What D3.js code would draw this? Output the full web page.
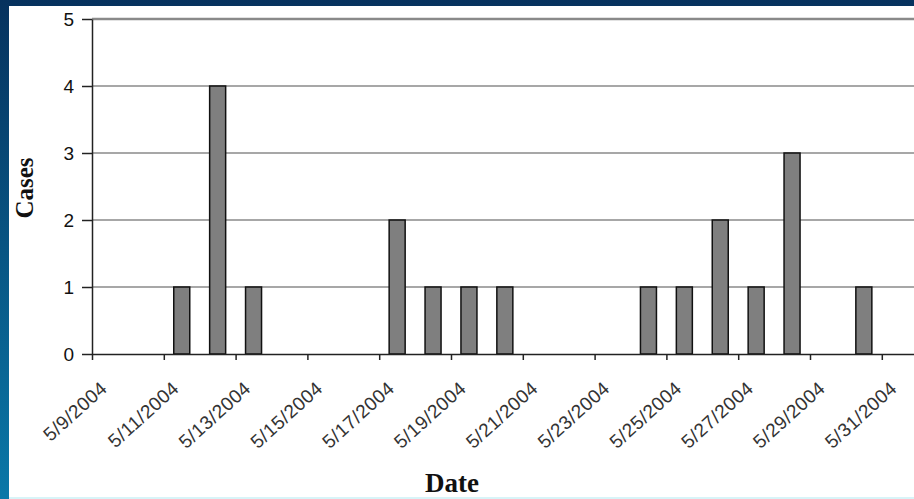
<!DOCTYPE html>
<html><head><meta charset="utf-8">
<script src="https://cdn.jsdelivr.net/npm/d3@7"></script>
<style>html,body{margin:0;padding:0;overflow:hidden;background:#fff}</style>
</head><body>
<svg id="c" width="914" height="499"></svg>
<script>
const dates = ["2004-05-11","2004-05-12","2004-05-13","2004-05-17","2004-05-18","2004-05-19","2004-05-20","2004-05-24","2004-05-25","2004-05-26","2004-05-27","2004-05-28","2004-05-30"];
const cases = [1,4,1,2,1,1,1,1,1,2,1,3,1];
const yTicks = [0,1,2,3,4,5];
const xStart = "2004-05-09", xEnd = "2004-06-01";
const yLabel = "Cases", xLabel = "Date";

(function(){
const svg = d3.select("#c");
const parse = d3.utcParse("%Y-%m-%d");
const fmt = d => (d.getUTCMonth()+1) + "/" + d.getUTCDate() + "/" + d.getUTCFullYear();

const defs = svg.append("defs");
const g1 = defs.append("linearGradient").attr("id","bg").attr("x1",0).attr("y1",0).attr("x2",0).attr("y2",1);
g1.append("stop").attr("offset","0%").attr("stop-color","#06325e");
g1.append("stop").attr("offset","100%").attr("stop-color","#0a78a8");
svg.append("rect").attr("width",914).attr("height",499).attr("fill","url(#bg)");
svg.append("rect").attr("x",9).attr("y",6).attr("width",905).attr("height",491).attr("fill","#fff");
svg.append("rect").attr("x",9).attr("y",497).attr("width",905).attr("height",2).attr("fill","#d8f4f8");

const mLeft = 92, mTop = 19, mBottom = 354;
const x = d3.scaleUtc().domain([parse(xStart), parse(xEnd)]).range([mLeft, mLeft + 23*35.9]);
const y = d3.scaleLinear().domain([0,5]).range([mBottom, mTop]);

svg.append("g").selectAll("line").data(yTicks.filter(t=>t>0)).join("line")
  .attr("x1",mLeft).attr("x2",914).attr("y1",d=>y(d)).attr("y2",d=>y(d))
  .attr("stroke","#8a8a8a").attr("stroke-width",d=>d===5?2.5:1.5);

const dayW = x(parse("2004-05-10")) - x(parse("2004-05-09"));
const barW = 16;
svg.append("g").selectAll("rect").data(dates.map((d,i)=>({d:parse(d),v:cases[i]}))).join("rect")
  .attr("x",d=>x(d.d)+(dayW-barW)/2).attr("width",barW)
  .attr("y",d=>y(d.v)).attr("height",d=>mBottom-y(d.v))
  .attr("fill","#7f7f7f").attr("stroke","#111").attr("stroke-width",1.5);

const ya = svg.append("g").attr("transform",`translate(${mLeft},0)`)
  .call(d3.axisLeft(y).tickValues(yTicks).tickFormat(d3.format("d")).tickSize(10).tickPadding(8).tickSizeOuter(0));
ya.select(".domain").attr("stroke","#222").attr("stroke-width",1.5);
ya.selectAll(".tick line").attr("stroke","#222").attr("stroke-width",1.5);
ya.selectAll(".tick text").attr("font-family","Liberation Sans, Arial, sans-serif").attr("font-size",19).attr("fill","#111");

const xTicks = d3.utcDay.range(parse(xStart), parse(xEnd), 2);
const xa = svg.append("g").attr("transform",`translate(0,${mBottom})`)
  .call(d3.axisBottom(x).tickValues(xTicks).tickFormat(fmt).tickSize(6).tickSizeOuter(0));
xa.select(".domain").attr("stroke","#222").attr("stroke-width",1.5);
xa.selectAll(".tick line").attr("stroke","#222").attr("stroke-width",1.5);
xa.selectAll(".tick text").attr("font-family","Liberation Sans, Arial, sans-serif").attr("font-size",19)
  .attr("letter-spacing",0.5).attr("fill","#333")
  .attr("text-anchor","end").attr("dy",0).attr("y",0)
  .attr("transform","translate(16,36) rotate(-42)");

svg.append("text").attr("transform",`translate(33,188) rotate(-90)`)
  .attr("text-anchor","middle").attr("font-family","Liberation Serif, Times New Roman, serif")
  .attr("font-weight","bold").attr("font-size",25).attr("fill","#111").text(yLabel);
svg.append("text").attr("x",452).attr("y",492).attr("text-anchor","middle")
  .attr("font-family","Liberation Serif, Times New Roman, serif")
  .attr("font-weight","bold").attr("font-size",27).attr("fill","#111").text(xLabel);
})();
</script>
</body></html>
